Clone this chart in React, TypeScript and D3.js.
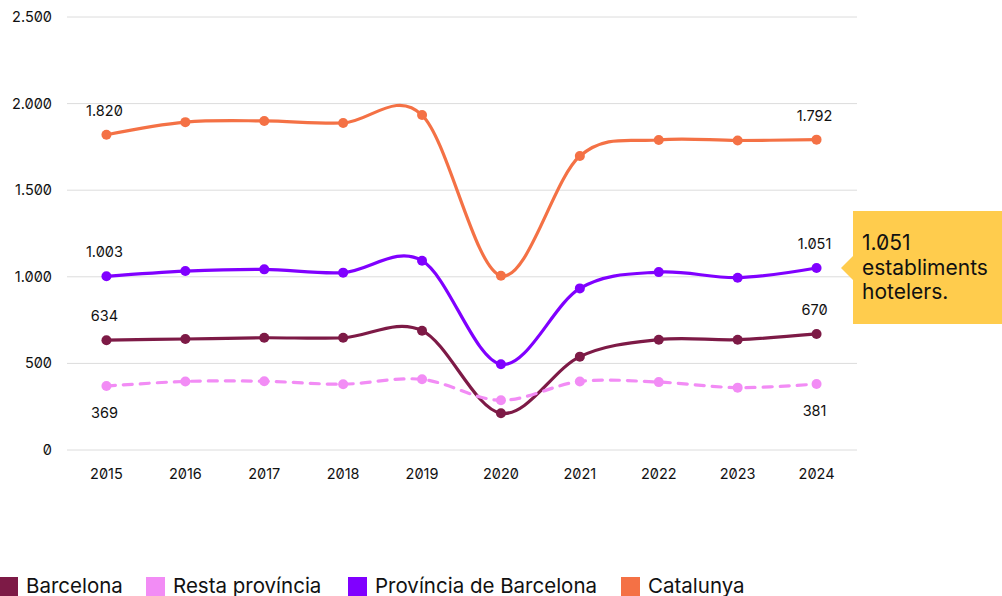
import React, { useRef, useEffect } from "react";
import * as d3 from "d3";

const years = ["2015", "2016", "2017", "2018", "2019", "2020", "2021", "2022", "2023", "2024"];
const barcelona = [634, 641, 648, 648, 689, 212, 539, 637, 637, 670];
const restaProvincia = [369, 396, 397, 380, 408, 287, 396, 392, 360, 381];
const provinciaBarcelona = [1003, 1033, 1043, 1024, 1093, 495, 933, 1027, 995, 1051];
const catalunya = [1820, 1893, 1900, 1888, 1934, 1006, 1697, 1790, 1787, 1792];
const yTicks = [0, 500, 1000, 1500, 2000, 2500];

interface Series {
  name: string;
  values: number[];
  color: string;
  dashed: boolean;
  labelBelow: boolean;
}

const series: Series[] = [
  { name: "Barcelona", values: barcelona, color: "#7d1a46", dashed: false, labelBelow: false },
  { name: "Resta província", values: restaProvincia, color: "#f28cf5", dashed: true, labelBelow: true },
  { name: "Província de Barcelona", values: provinciaBarcelona, color: "#8000ff", dashed: false, labelBelow: false },
  { name: "Catalunya", values: catalunya, color: "#f47145", dashed: false, labelBelow: false },
];

const calloutLines = ["1.051", "establiments", "hotelers."];

const fmt = (v: number) => d3.format(",")(v).replace(/,/g, ".");

const FONT = "Inter, 'Noto Sans', sans-serif";

const App: React.FC = () => {
  const svgRef = useRef<SVGSVGElement>(null);

  useEffect(() => {
    if (!svgRef.current) return;
    const svg = d3.select(svgRef.current);
    svg.selectAll("*").remove();

    const width = 1002;
    const height = 596;
    const left = 67;
    const right = 856;
    const top = 17;
    const bottom = 450;

    svg
      .attr("width", width)
      .attr("height", height)
      .attr("viewBox", `0 0 ${width} ${height}`)
      .style("font-family", FONT)
      .style("font-feature-settings", "'zero' 1");

    const x = d3.scalePoint<string>().domain(years).range([left, right]).padding(0.5);
    const y = d3.scaleLinear().domain([0, 2500]).range([bottom, top]);

    // Grid + y labels
    const grid = svg.append("g");
    grid
      .selectAll("line")
      .data(yTicks)
      .enter()
      .append("line")
      .attr("x1", left)
      .attr("x2", right + 1)
      .attr("y1", (d) => y(d))
      .attr("y2", (d) => y(d))
      .attr("stroke", "#dcdcdc")
      .attr("stroke-width", 1);

    grid
      .selectAll("text")
      .data(yTicks)
      .enter()
      .append("text")
      .attr("x", 52)
      .attr("y", (d) => y(d))
      .attr("dy", "0.35em")
      .attr("text-anchor", "end")
      .attr("font-size", 14.5)
      .attr("fill", "#111")
      .text((d) => fmt(d));

    // X labels
    svg
      .append("g")
      .selectAll("text")
      .data(years)
      .enter()
      .append("text")
      .attr("x", (d) => x(d)!)
      .attr("y", 474)
      .attr("dy", "0.35em")
      .attr("text-anchor", "middle")
      .attr("font-size", 14.5)
      .attr("fill", "#111")
      .text((d) => d);

    const line = d3
      .line<number>()
      .x((_d, i) => x(years[i])!)
      .y((d) => y(d))
      .curve(d3.curveCatmullRom.alpha(0));

    series.forEach((s) => {
      const g = svg.append("g");
      g.append("path")
        .datum(s.values)
        .attr("fill", "none")
        .attr("stroke", s.color)
        .attr("stroke-width", 3.2)
        .attr("stroke-linecap", s.dashed ? "round" : "butt")
        .attr("stroke-dasharray", s.dashed ? "9 8" : null)
        .attr("d", line);

      g.selectAll("circle")
        .data(s.values)
        .enter()
        .append("circle")
        .attr("cx", (_d, i) => x(years[i])!)
        .attr("cy", (d) => y(d))
        .attr("r", 5)
        .attr("fill", s.color);

      // first & last labels
      [0, s.values.length - 1].forEach((i) => {
        const v = s.values[i];
        g.append("text")
          .attr("x", x(years[i])! - 2)
          .attr("y", y(v) + (s.labelBelow ? 27 : -24))
          .attr("dy", "0.35em")
          .attr("text-anchor", "middle")
          .attr("font-size", 14.5)
          .attr("fill", "#111")
          .text(fmt(v));
      });
    });

    // Callout
    const lastY = y(provinciaBarcelona[provinciaBarcelona.length - 1]);
    const callout = svg.append("g");
    callout
      .append("rect")
      .attr("x", 853)
      .attr("y", 211)
      .attr("width", 149)
      .attr("height", 113)
      .attr("fill", "#ffcc4d");
    callout
      .append("path")
      .attr("d", `M841,${lastY} L853,${lastY - 12} L853,${lastY + 12} Z`)
      .attr("fill", "#ffcc4d");
    callout
      .selectAll("text")
      .data(calloutLines)
      .enter()
      .append("text")
      .attr("x", 862)
      .attr("y", (_d, i) => 250 + i * 24.5)
      .attr("font-size", 21)
      .attr("fill", "#111")
      .text((d) => d);

    // Legend
    const legendX = [-1, 146, 348, 621];
    const legend = svg.append("g");
    series.forEach((s, i) => {
      legend
        .append("rect")
        .attr("x", legendX[i])
        .attr("y", 577)
        .attr("width", 19)
        .attr("height", 20)
        .attr("fill", s.color);
      legend
        .append("text")
        .attr("x", legendX[i] + 27)
        .attr("y", 593)
        .attr("font-size", 20.5)
        .attr("fill", "#111")
        .text(s.name);
    });
  }, []);

  return (
    <div style={{ position: "absolute", left: 0, top: 0, width: 1002, height: 596, background: "#fff", overflow: "hidden" }}>
      <svg ref={svgRef} style={{ display: "block" }}></svg>
    </div>
  );
};

export default App;
